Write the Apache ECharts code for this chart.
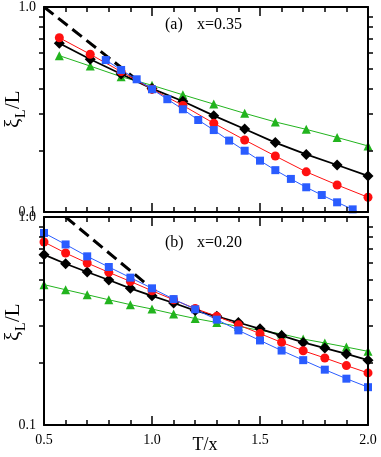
<!DOCTYPE html>
<html>
<head>
<meta charset="utf-8">
<script src="https://cdn.jsdelivr.net/npm/echarts@6/dist/echarts.min.js"></script>
<style>
  html, body { margin: 0; padding: 0; background: #fff; }
  #wrap { position: relative; width: 381px; height: 457px; }
  .panel { position: absolute; left: 0; top: 0; width: 381px; height: 457px; }
</style>
</head>
<body>
<div id="wrap">
  <div id="panelA" class="panel"></div>
  <div id="panelB" class="panel"></div>
  <div id="frameA" class="panel"></div>
  <div id="frameB" class="panel"></div>
</div>
<script>
// T/x positions
const xCoarseA = [0.571, 0.714, 0.857, 1.0, 1.143, 1.286, 1.429, 1.571, 1.714, 1.857, 2.0];
const xFineA = [0.786, 0.857, 0.929, 1.0, 1.071, 1.143, 1.214, 1.286, 1.357, 1.429, 1.5,
                1.571, 1.643, 1.714, 1.786, 1.857, 1.929, 2.0];
const xB = [0.5, 0.6, 0.7, 0.8, 0.9, 1.0, 1.1, 1.2, 1.3, 1.4, 1.5, 1.6, 1.7, 1.8, 1.9, 2.0];

// panel (a) x=0.35
const greenA = [0.579, 0.515, 0.457, 0.415, 0.373, 0.336, 0.303, 0.275, 0.253, 0.231, 0.210];
const blackA = [0.665, 0.556, 0.471, 0.400, 0.347, 0.295, 0.254, 0.218, 0.191, 0.1695, 0.150];
const redA = [0.708, 0.588, 0.484, 0.397, 0.331, 0.271, 0.2245, 0.1875, 0.157, 0.1355, 0.118];
const blueA = [0.551, 0.493, 0.444, 0.397, 0.355, 0.317, 0.281, 0.251, 0.223, 0.199, 0.178,
               0.160, 0.145, 0.132, 0.121, 0.1115, 0.103, 0.095];
const dashA = [[0.5, 1.0], [0.92, 0.45]];

// panel (b) x=0.20
const greenB = [0.473, 0.447, 0.423, 0.400, 0.379, 0.361, 0.342, 0.325, 0.311, 0.298, 0.285, 0.274, 0.259, 0.248, 0.237, 0.226];
const blackB = [0.659, 0.596, 0.544, 0.498, 0.454, 0.418, 0.386, 0.355, 0.333, 0.311, 0.290, 0.269, 0.2495, 0.2345, 0.2195, 0.205];
const redB = [0.758, 0.671, 0.601, 0.542, 0.490, 0.442, 0.400, 0.363, 0.333, 0.303, 0.275, 0.2495, 0.2276, 0.210, 0.193, 0.178];
const blueB = [0.838, 0.738, 0.647, 0.575, 0.511, 0.454, 0.403, 0.360, 0.321, 0.285, 0.255, 0.228, 0.205, 0.1845, 0.167, 0.152];
const dashB = [[0.6, 1.0], [0.97, 0.48]];

const font = '"Liberation Serif", "DejaVu Serif", serif';
const GREEN = '#22b41e', RED = '#ff1010', BLUE = '#2a5cff';

const gridA = { left: 44, top: 7, width: 324, height: 205, outerBoundsMode: 'none' };
const gridB = { left: 44, top: 217, width: 324, height: 208, outerBoundsMode: 'none' };

const pair = (xs, ys) => xs.map((x, i) => [x, ys[i]]);

// axes of the frame layer: lines, ticks, labels
function xAx(pos, labels) {
  return {
    type: 'value', position: pos, min: 0.5, max: 2.0, interval: 0.5,
    axisLine: { show: true, onZero: false, lineStyle: { color: '#000', width: 2 } },
    axisTick: { show: true, inside: true, length: 9, lineStyle: { color: '#000', width: 1.5 } },
    minorTick: { show: true, splitNumber: 5, length: 5, lineStyle: { color: '#000', width: 1.5 } },
    axisLabel: { show: labels, color: '#000', fontFamily: font, fontSize: 14, formatter: v => v.toFixed(1) },
    splitLine: { show: false }
  };
}

function yAx(pos, labels) {
  return {
    type: 'log', position: pos, min: 0.1, max: 1,
    axisLine: { show: true, onZero: false, lineStyle: { color: '#000', width: 2 } },
    axisTick: { show: false },
    minorTick: { show: true, splitNumber: 9, length: 5, lineStyle: { color: '#000', width: 1.5 } },
    axisLabel: { show: labels, color: '#000', fontFamily: font, fontSize: 14, formatter: v => v.toFixed(1) },
    splitLine: { show: false }
  };
}

// bare axes of the data layer (scales only)
const bareX = { type: 'value', min: 0.5, max: 2.0, interval: 0.5, axisLine: { show: false },
                axisTick: { show: false }, axisLabel: { show: false }, splitLine: { show: false } };
const bareY = { type: 'log', min: 0.1, max: 1, axisLine: { show: false },
                axisTick: { show: false }, axisLabel: { show: false }, splitLine: { show: false } };

function line(data, color, symbol, size, width) {
  return {
    type: 'line', data: data, symbol: symbol, symbolSize: size,
    lineStyle: { color: color, width: width }, itemStyle: { color: color }
  };
}

function dash(data) {
  return { type: 'line', data: data, symbol: 'none', lineStyle: { color: '#000', width: 3, type: 'dashed' } };
}

// ξ_L/L, rotated, with L as subscript
function yName(x0, y0) {
  const big = { fontFamily: font, fontSize: 21, fill: '#000', verticalAlign: 'bottom' };
  const small = { fontFamily: font, fontSize: 14, fill: '#000', verticalAlign: 'bottom' };
  return {
    type: 'group', x: x0, y: y0, rotation: Math.PI / 2,
    children: [
      { type: 'text', x: 0, y: 0, style: Object.assign({ text: 'ξ' }, big) },
      { type: 'text', x: 10, y: 4, style: Object.assign({ text: 'L' }, small) },
      { type: 'text', x: 19, y: 0, style: Object.assign({ text: '/L' }, big) }
    ]
  };
}

function panelText(x, y, s) {
  return { type: 'text', x: x, y: y,
           style: { text: s, fontFamily: font, fontSize: 16, fill: '#000', verticalAlign: 'middle' } };
}

const chartA = echarts.init(document.getElementById('panelA'));
chartA.setOption({
  backgroundColor: '#fff',
  animation: false,
  grid: gridA,
  xAxis: bareX,
  yAxis: bareY,
  graphic: [panelText(165, 25, '(a)'), panelText(197, 25, 'x=0.35'), yName(24, 128)],
  series: [
    dash(dashA),
    line(pair(xCoarseA, greenA), GREEN, 'triangle', 9, 1),
    line(pair(xCoarseA, blackA), '#000', 'diamond', 11, 1.8),
    line(pair(xCoarseA, redA), RED, 'circle', 9, 1),
    line(pair(xFineA, blueA), BLUE, 'rect', 8, 1)
  ]
});

const chartB = echarts.init(document.getElementById('panelB'));
chartB.setOption({
  animation: false,
  grid: gridB,
  xAxis: bareX,
  yAxis: bareY,
  graphic: [
    panelText(165, 243, '(b)'), panelText(197, 243, 'x=0.20'), yName(24, 341),
    { type: 'text', x: 205, y: 445,
      style: { text: 'T/x', fontFamily: font, fontSize: 18, fill: '#000', align: 'center', verticalAlign: 'middle' } }
  ],
  series: [
    dash(dashB),
    line(pair(xB, greenB), GREEN, 'triangle', 9, 1),
    line(pair(xB, blackB), '#000', 'diamond', 11, 1.8),
    line(pair(xB, redB), RED, 'circle', 9, 1),
    line(pair(xB, blueB), BLUE, 'rect', 8, 1)
  ]
});

// frame layers on top: axis lines, ticks and tick labels only
const frameA = echarts.init(document.getElementById('frameA'));
frameA.setOption({
  animation: false,
  grid: gridA,
  xAxis: [xAx('bottom', false), xAx('top', false)],
  yAxis: [yAx('left', true), yAx('right', false)]
});

const frameB = echarts.init(document.getElementById('frameB'));
frameB.setOption({
  animation: false,
  grid: gridB,
  xAxis: [xAx('bottom', true), xAx('top', false)],
  yAxis: [yAx('left', true), yAx('right', false)]
});
</script>
</body>
</html>
